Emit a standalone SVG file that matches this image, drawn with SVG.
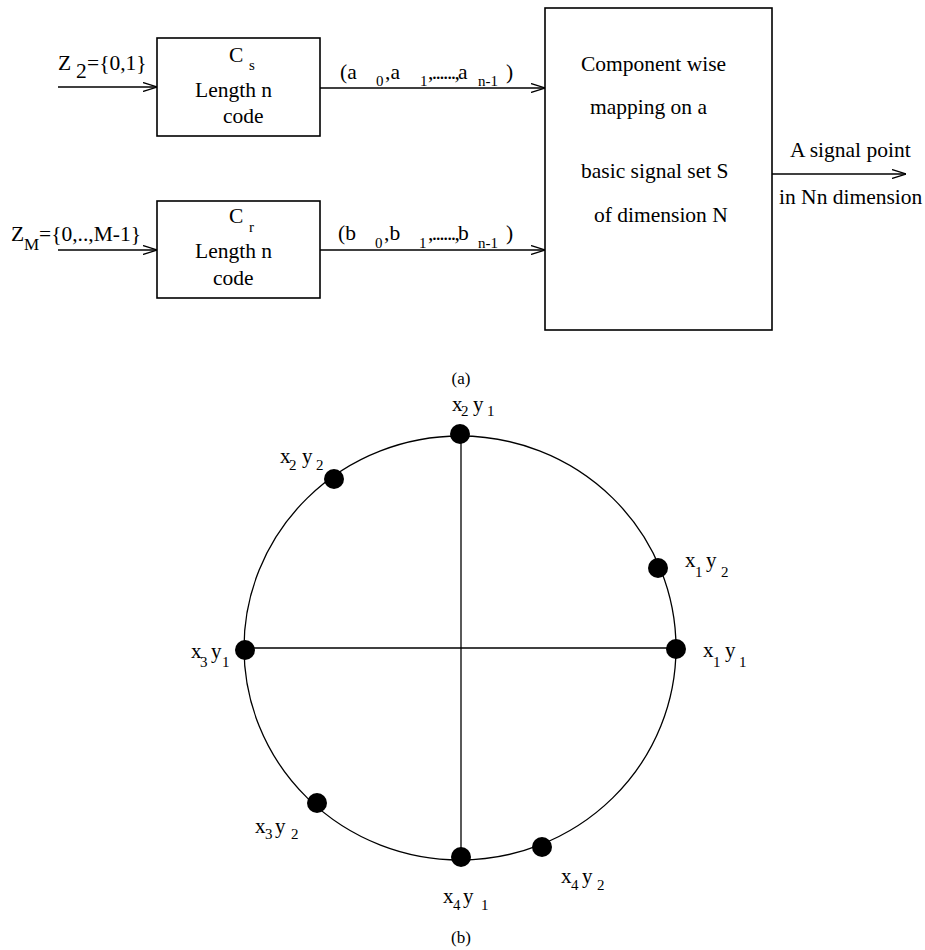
<svg xmlns="http://www.w3.org/2000/svg" width="925" height="950" viewBox="0 0 925 950">
<style>
text{font-family:"Liberation Serif","Times New Roman",serif;fill:#000}
.t{font-size:21.5px}
.s{font-size:15px}
.l{font-size:21px}
.dots{letter-spacing:-1.6px}
.box{fill:#fff;stroke:#000;stroke-width:1.6}
.ln{fill:none;stroke:#000;stroke-width:1.3}
.dot{fill:#000}
</style>
<defs>
<marker id="arr" viewBox="0 0 14 10" refX="14" refY="5" markerWidth="14" markerHeight="10" orient="auto" markerUnits="userSpaceOnUse">
<path d="M0,0.5 L14,5 L0,9.5" fill="none" stroke="#000" stroke-width="1.3"/>
</marker>
</defs>
<rect width="925" height="950" fill="#fff"/>

<g id="connectors">
<line class="ln" x1="58" y1="87" x2="157" y2="87" marker-end="url(#arr)"/>
<line class="ln" x1="58" y1="250" x2="157" y2="250" marker-end="url(#arr)"/>
<line class="ln" x1="320" y1="88" x2="545" y2="88" marker-end="url(#arr)"/>
<line class="ln" x1="320" y1="250" x2="545" y2="250" marker-end="url(#arr)"/>
<line class="ln" x1="772" y1="174" x2="906" y2="174" marker-end="url(#arr)"/>
</g>

<g id="input-z2">
<text class="t" x="58" y="70">Z</text>
<text class="t" x="76" y="78">2</text>
<text class="t" x="87" y="70">={0,1}</text>
</g>
<g id="input-zm">
<text class="t" x="11" y="241">Z</text>
<text class="s" x="24" y="250" style="font-size:17px">M</text>
<text class="t" x="39" y="241">={0,..,M-1}</text>
</g>

<g id="node-cs">
<rect class="box" x="157" y="38" width="163" height="98"/>
<text class="t" x="229" y="62">C</text>
<text class="s" x="249" y="70">s</text>
<text class="t" x="195" y="97">Length  n</text>
<text class="t" x="223" y="123">code</text>
</g>

<g id="node-cr">
<rect class="box" x="157" y="201" width="163" height="97"/>
<text class="t" x="229" y="223">C</text>
<text class="s" x="249" y="232">r</text>
<text class="t" x="195" y="258">Length  n</text>
<text class="t" x="213" y="285">code</text>
</g>

<g id="label-a">
<text class="t" x="340" y="79">(a</text>
<text class="s" x="376" y="86">0</text>
<text class="t" x="385" y="79">,a</text>
<text class="s" x="420" y="86">1</text>
<text class="t dots" x="428" y="79">,......,</text>
<text class="t" x="458" y="79">a</text>
<text class="s" x="478" y="86">n-1</text>
<text class="t" x="506" y="79">)</text>
</g>
<g id="label-b">
<text class="t" x="338" y="240">(b</text>
<text class="s" x="375" y="248">0</text>
<text class="t" x="384" y="240">,b</text>
<text class="s" x="419" y="248">1</text>
<text class="t dots" x="428" y="240">,......,</text>
<text class="t" x="458" y="240">b</text>
<text class="s" x="478" y="248">n-1</text>
<text class="t" x="506" y="240">)</text>
</g>

<g id="node-mapping">
<rect class="box" x="545" y="8" width="227" height="322"/>
<text class="t" x="581" y="71">Component wise</text>
<text class="t" x="590" y="114">mapping on a</text>
<text class="t" x="581" y="178">basic signal set S</text>
<text class="t" x="594" y="222">of dimension N</text>
</g>

<g id="output-label">
<text class="t" x="790" y="157">A signal point</text>
<text class="t" x="779" y="204">in Nn dimension</text>
</g>

<text x="461" y="384" text-anchor="middle" style="font-size:17px">(a)</text>

<g id="circle">
<ellipse class="ln" cx="460" cy="648" rx="216" ry="212"/>
<line class="ln" x1="461" y1="436" x2="461" y2="860"/>
<line class="ln" x1="244" y1="648" x2="676" y2="648"/>
</g>

<g id="p-x2y1"><circle class="dot" cx="460" cy="434" r="10"/>
<text class="l" x="452" y="411">x</text><text class="s" x="461" y="416">2</text><text class="l" x="473" y="411">y</text><text class="s" x="487" y="416">1</text></g>
<g id="p-x2y2"><circle class="dot" cx="334" cy="479" r="10"/>
<text class="l" x="280" y="463">x</text><text class="s" x="289" y="470">2</text><text class="l" x="302" y="463">y</text><text class="s" x="316" y="470">2</text></g>
<g id="p-x1y2"><circle class="dot" cx="658" cy="568" r="10"/>
<text class="l" x="685" y="567">x</text><text class="s" x="695" y="577">1</text><text class="l" x="706" y="567">y</text><text class="s" x="721" y="577">2</text></g>
<g id="p-x1y1"><circle class="dot" cx="676" cy="649" r="10"/>
<text class="l" x="703" y="657">x</text><text class="s" x="713" y="667">1</text><text class="l" x="725" y="657">y</text><text class="s" x="739" y="667">1</text></g>
<g id="p-x3y1"><circle class="dot" cx="245" cy="650" r="10"/>
<text class="l" x="191" y="658">x</text><text class="s" x="200" y="667">3</text><text class="l" x="211" y="658">y</text><text class="s" x="222" y="667">1</text></g>
<g id="p-x3y2"><circle class="dot" cx="317" cy="803" r="10"/>
<text class="l" x="255" y="833">x</text><text class="s" x="265" y="839">3</text><text class="l" x="275" y="833">y</text><text class="s" x="291" y="839">2</text></g>
<g id="p-x4y1"><circle class="dot" cx="461" cy="857" r="10"/>
<text class="l" x="443" y="903">x</text><text class="s" x="453" y="910">4</text><text class="l" x="463" y="903">y</text><text class="s" x="481" y="910">1</text></g>
<g id="p-x4y2"><circle class="dot" cx="542" cy="847" r="10"/>
<text class="l" x="561" y="883">x</text><text class="s" x="571" y="890">4</text><text class="l" x="582" y="883">y</text><text class="s" x="597" y="890">2</text></g>

<text x="461" y="943" text-anchor="middle" style="font-size:17px">(b)</text>
</svg>
